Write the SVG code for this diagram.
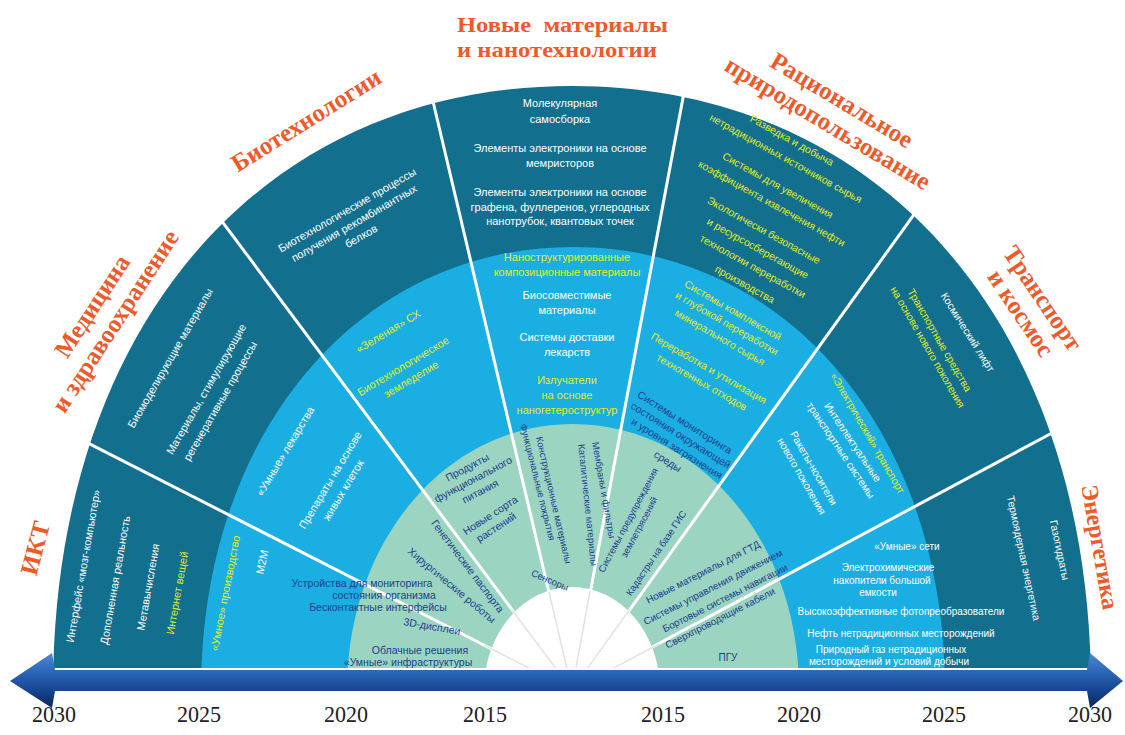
<svg xmlns="http://www.w3.org/2000/svg" width="1125" height="735" viewBox="0 0 1125 735">
<style>
.ti{font-family:"Liberation Serif","Times New Roman",serif;font-weight:bold;font-size:25px;fill:#ee5a2b;text-anchor:middle;dominant-baseline:central}
.tl{font-family:"Liberation Serif","Times New Roman",serif;font-weight:bold;font-size:22px;fill:#ee5a2b}
.c{font-family:"Liberation Sans",Arial,sans-serif;font-size:10.5px;text-anchor:middle;dominant-baseline:central}
.l{font-size:11px}
.s{font-size:10px}
.xs{font-size:9.5px}
.w{fill:#ffffff}
.y{fill:#e3ec22}
.b{fill:#1b3e8e}
.yr{font-family:"Liberation Serif","Times New Roman",serif;font-size:24px;fill:#222;text-anchor:middle}
.div{stroke:#ffffff;stroke-width:3;fill:none}
.hl{stroke:#e3e3e3;stroke-width:1.5;fill:none}
</style>
<defs>
<clipPath id="top"><rect x="0" y="0" width="1125" height="668"/></clipPath>
<linearGradient id="ag" x1="0" y1="0" x2="0" y2="1">
<stop offset="0" stop-color="#4f88d2"/>
<stop offset="0.33" stop-color="#2c68b9"/>
<stop offset="0.7" stop-color="#15438e"/>
<stop offset="1" stop-color="#0a2558"/>
</linearGradient>
</defs>
<rect width="1125" height="735" fill="#ffffff"/>
<g id="rings" clip-path="url(#top)">
<path d="M53 690 C53 327.6 260.6 86 572 86 C883.4 86 1091 327.6 1091 690 Z" fill="#136f8e"/>
<path d="M201 690 C201 434 358 247 573 247 C788 247 945 434 945 690 Z" fill="#1aaee2"/>
<path d="M347 690 C347 541 446.4 424 573 424 C699.6 424 799 541 799 690 Z" fill="#9bd4c0"/>
</g>
<g id="connectors" clip-path="url(#top)">
<line class="div" x1="572" y1="690" x2="80.3" y2="439.1"/>
<line class="div" x1="572" y1="690" x2="219" y2="217.3"/>
<line class="div" x1="572" y1="690" x2="430.2" y2="89.5"/>
<line class="div" x1="572" y1="690" x2="686.4" y2="79.6"/>
<line class="div" x1="572" y1="690" x2="917.7" y2="209.4"/>
<line class="div" x1="572" y1="690" x2="1059.5" y2="429"/>
<ellipse cx="572" cy="690" rx="88" ry="103" fill="#ffffff"/>
<line class="hl" x1="572" y1="690" x2="484" y2="645"/>
<line class="hl" x1="572" y1="690" x2="512" y2="610"/>
<line class="hl" x1="572" y1="690" x2="549" y2="592"/>
<line class="hl" x1="572" y1="690" x2="590" y2="591"/>
<line class="hl" x1="572" y1="690" x2="630" y2="609"/>
<line class="hl" x1="572" y1="690" x2="659" y2="644"/>
</g>
<g id="timeline">
<polygon points="10,681 52,653 55,670 1087,670 1090,653 1123,681 1090,708 1087,691 55,691 52,708" fill="url(#ag)"/>
<text class="yr" x="54" y="722" textLength="44" lengthAdjust="spacingAndGlyphs">2030</text>
<text class="yr" x="199" y="722" textLength="44" lengthAdjust="spacingAndGlyphs">2025</text>
<text class="yr" x="346" y="722" textLength="44" lengthAdjust="spacingAndGlyphs">2020</text>
<text class="yr" x="485" y="722" textLength="44" lengthAdjust="spacingAndGlyphs">2015</text>
<text class="yr" x="663" y="722" textLength="44" lengthAdjust="spacingAndGlyphs">2015</text>
<text class="yr" x="799" y="722" textLength="44" lengthAdjust="spacingAndGlyphs">2020</text>
<text class="yr" x="944" y="722" textLength="44" lengthAdjust="spacingAndGlyphs">2025</text>
<text class="yr" x="1090" y="722" textLength="44" lengthAdjust="spacingAndGlyphs">2030</text>
</g>
<g id="ikt">
<text class="ti" transform="translate(35 548) rotate(-75)">ИКТ</text>
<text class="c l w" transform="translate(83 566) rotate(-80)">Интерфейс «мозг-компьютер»</text>
<text class="c l w" transform="translate(115 580) rotate(-80)">Дополненная реальность</text>
<text class="c l w" transform="translate(148 587) rotate(-80)">Метавычисления</text>
<text class="c l y" transform="translate(177 593) rotate(-80)">Интернет вещей</text>
<text class="c l y" transform="translate(225 593) rotate(-79)">«Умное» производство</text>
<text class="c l w" transform="translate(262 562) rotate(-78)">М2М</text>
<text class="c b" x="362" y="583">Устройства для мониторинга</text>
<text class="c b" x="384" y="595">состояния организма</text>
<text class="c b" x="378" y="607">Бесконтактные интерфейсы</text>
<text class="c b" transform="translate(432 626) rotate(10)">3D-дисплеи</text>
<text class="c b" x="420" y="650">Облачные решения</text>
<text class="c b" x="408" y="662">«Умные» инфраструктуры</text>
</g>
<g id="med">
<text class="ti" transform="translate(92 306) rotate(-57)">Медицина</text>
<text class="ti" transform="translate(115 321) rotate(-57)">и здравоохранение</text>
<text class="c l w" transform="translate(170 358) rotate(-60)">Биомоделирующие материалы</text>
<text class="c l w" transform="translate(206 389) rotate(-60)">Материалы, стимулирующие</text>
<text class="c l w" transform="translate(220 401) rotate(-60)">регенеративные процессы</text>
<text class="c l w" transform="translate(285 451) rotate(-59)">«Умные» лекарства</text>
<text class="c l w" transform="translate(330 480) rotate(-59)">Препараты на основе</text>
<text class="c l w" transform="translate(343 490) rotate(-59)">живых клеток</text>
<text class="c b" transform="translate(468 566) rotate(53)">Генетические паспорта</text>
<text class="c b" transform="translate(452 585) rotate(40)">Хирургические роботы</text>
</g>
<g id="bio">
<text class="ti" transform="translate(306 120) rotate(-32)">Биотехнологии</text>
<text class="c l w" transform="translate(347 210) rotate(-30)">Биотехнологические процессы</text>
<text class="c l w" transform="translate(354 223) rotate(-30)">получения рекомбинантных</text>
<text class="c l w" transform="translate(361 236) rotate(-30)">белков</text>
<text class="c l y" transform="translate(388 331) rotate(-31)">«Зеленая» СХ</text>
<text class="c l y" transform="translate(403 366) rotate(-31)">Биотехнологическое</text>
<text class="c l y" transform="translate(411 379) rotate(-31)">земледелие</text>
<text class="c b" transform="translate(467 467) rotate(-28)">Продукты</text>
<text class="c b" transform="translate(473 479) rotate(-28)">функционального</text>
<text class="c b" transform="translate(480 491) rotate(-28)">питания</text>
<text class="c b" transform="translate(490 515) rotate(-33)">Новые сорта</text>
<text class="c b" transform="translate(496 527) rotate(-33)">растений</text>
</g>
<g id="nano">
<text class="tl" x="457" y="32" textLength="211" lengthAdjust="spacingAndGlyphs">Новые&#160; материалы</text>
<text class="tl" x="457" y="57" textLength="200" lengthAdjust="spacingAndGlyphs">и нанотехнологии</text>
<text class="c l w" x="560" y="103">Молекулярная</text>
<text class="c l w" x="560" y="119">самосборка</text>
<text class="c l w" x="560" y="148">Элементы электроники на основе</text>
<text class="c l w" x="560" y="163">мемристоров</text>
<text class="c l w" x="560" y="192">Элементы электроники на основе</text>
<text class="c l w" x="560" y="207">графена, фуллеренов, углеродных</text>
<text class="c l w" x="560" y="221">нанотрубок, квантовых точек</text>
<text class="c l y" x="567" y="257">Наноструктурированные</text>
<text class="c l y" x="567" y="272">композиционные материалы</text>
<text class="c l w" x="567" y="295">Биосовместимые</text>
<text class="c l w" x="567" y="310">материалы</text>
<text class="c l w" x="567" y="337">Системы доставки</text>
<text class="c l w" x="567" y="352">лекарств</text>
<text class="c l y" x="567" y="380">Излучатели</text>
<text class="c l y" x="567" y="395">на основе</text>
<text class="c l y" x="567" y="410">наногетероструктур</text>
<text class="c xs b" transform="translate(538 482) rotate(76)">Функциональные покрытия</text>
<text class="c xs b" transform="translate(554 500) rotate(77)">Конструкционные материалы</text>
<text class="c xs b" transform="translate(550 580) rotate(23)">Сенсоры</text>
<text class="c xs b" transform="translate(588 505) rotate(84)">Каталитические материалы</text>
<text class="c xs b" transform="translate(604 490) rotate(80)">Мембраны и фильтры</text>
</g>
<g id="rac">
<text class="ti" transform="translate(842 100) rotate(31)">Рациональное</text>
<text class="ti" transform="translate(828 123) rotate(31)">природопользование</text>
<text class="c y" transform="translate(792 140) rotate(29)">Разведка и добыча</text>
<text class="c y" transform="translate(786 158) rotate(29)">нетрадиционных источников сырья</text>
<text class="c y" transform="translate(778 185) rotate(29)">Системы для увеличения</text>
<text class="c y" transform="translate(772 203) rotate(29)">коэффициента извлечения нефти</text>
<text class="c y" transform="translate(764 230) rotate(29)">Экологически безопасные</text>
<text class="c y" transform="translate(758 248) rotate(29)">и ресурсосберегающие</text>
<text class="c y" transform="translate(753 266) rotate(29)">технологии переработки</text>
<text class="c y" transform="translate(745 284) rotate(29)">производства</text>
<text class="c y" transform="translate(733 310) rotate(30)">Системы комплексной</text>
<text class="c y" transform="translate(727 323) rotate(30)">и глубокой переработки</text>
<text class="c y" transform="translate(720 337) rotate(30)">минерального сырья</text>
<text class="c y" transform="translate(709 368) rotate(30)">Переработка и утилизация</text>
<text class="c y" transform="translate(702 382) rotate(30)">техногенных отходов</text>
<text class="c b" transform="translate(685 422) rotate(32)">Системы мониторинга</text>
<text class="c b" transform="translate(681 435) rotate(32)">состояния окружающей</text>
<text class="c b" transform="translate(677 448) rotate(32)">и уровня загрязнения</text>
<text class="c b" transform="translate(668 461) rotate(32)">среды</text>
<text class="c xs b" transform="translate(628 520) rotate(-62)">Системы предупреждения</text>
<text class="c xs b" transform="translate(639 527) rotate(-62)">землетрясений</text>
<text class="c xs b" transform="translate(656 553) rotate(-56)">Кадастры на базе ГИС</text>
</g>
<g id="trans">
<text class="ti" transform="translate(1043 298) rotate(56)">Транспорт</text>
<text class="ti" transform="translate(1021 313) rotate(56)">и космос</text>
<text class="c w" transform="translate(968 332) rotate(58)">Космический лифт</text>
<text class="c y" transform="translate(940 340) rotate(60)">Транспортные средства</text>
<text class="c y" transform="translate(928 347) rotate(60)">на основе нового поколения</text>
<text class="c y" transform="translate(868 433) rotate(60)">«Электрический» транспорт</text>
<text class="c w" transform="translate(853 442) rotate(56)">Интеллектуальные</text>
<text class="c w" transform="translate(841 450) rotate(56)">транспортные системы</text>
<text class="c w" transform="translate(814 468) rotate(60)">Ракеты-носители</text>
<text class="c w" transform="translate(802 476) rotate(60)">нового поколения</text>
<text class="c s b" transform="translate(703 572) rotate(-27)">Новые материалы для ГТД</text>
<text class="c s b" transform="translate(713 587) rotate(-27)">Системы управления движением</text>
<text class="c s b" transform="translate(725 598) rotate(-27)">Бортовые системы навигации</text>
</g>
<g id="energ">
<text class="ti" transform="translate(1100 547) rotate(80)" style="font-size:24px">Энергетика</text>
<text class="c w" transform="translate(1024 558) rotate(78)">Термоядерная энергетика</text>
<text class="c w" transform="translate(1060 550) rotate(78)">Газогидраты</text>
<text class="c s w" x="907" y="546">«Умные» сети</text>
<text class="c s w" x="888" y="567">Электрохимические</text>
<text class="c s w" x="882" y="580">накопители большой</text>
<text class="c s w" x="878" y="592">емкости</text>
<text class="c s w" x="901" y="611">Высокоэффективные фотопреобразователи</text>
<text class="c s w" x="901" y="633">Нефть нетрадиционных месторождений</text>
<text class="c s w" x="891" y="649">Природный газ нетрадиционных</text>
<text class="c s w" x="889" y="661">месторождений и условий добычи</text>
<text class="c s b" transform="translate(720 618) rotate(-27)">Сверхпроводящие кабели</text>
<text class="c s b" x="728" y="657">ПГУ</text>
</g>
</svg>
